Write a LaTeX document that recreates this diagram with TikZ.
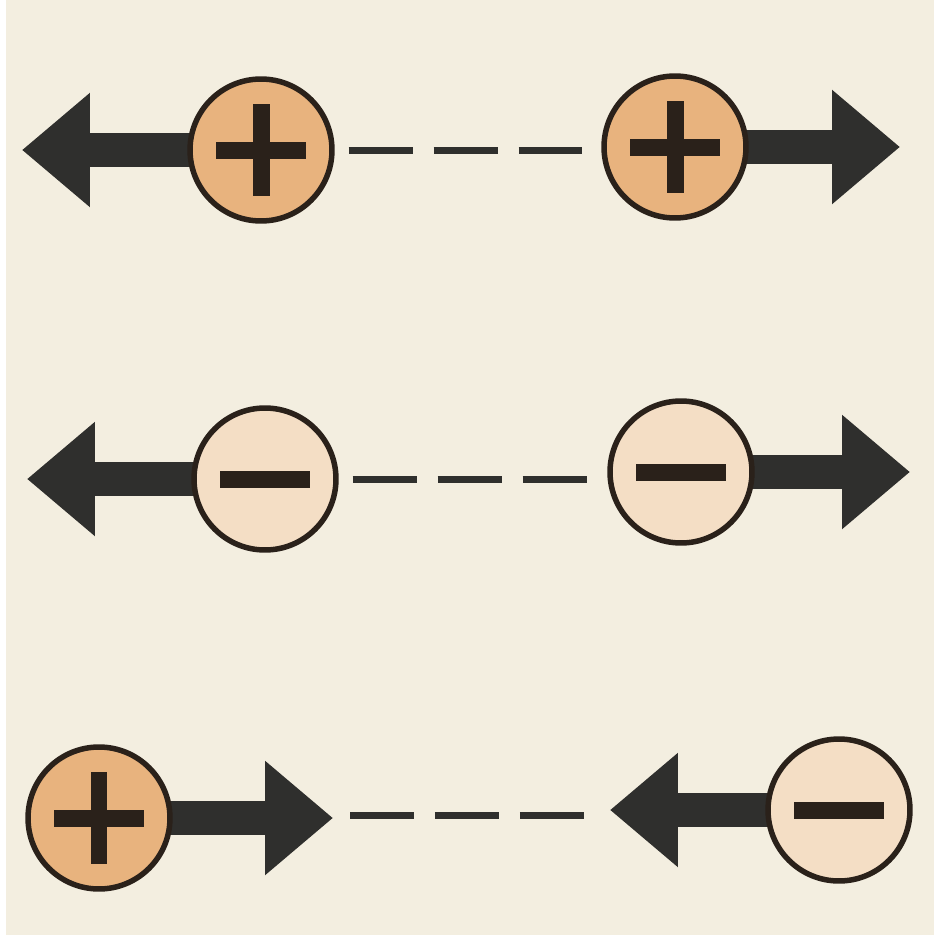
\documentclass[tikz,border=0pt]{standalone}
\usepackage{tikz}
\usetikzlibrary{positioning, arrows.meta, calc}
\definecolor{paper}{HTML}{F3EEE0}
\definecolor{posfill}{HTML}{E8B37E}
\definecolor{negfill}{HTML}{F4DEC5}
\definecolor{ink}{HTML}{2F2F2D}
\definecolor{rim}{HTML}{2A211A}
\tikzset{
  chg/.style     = {draw=rim, circle, line width=0.11cm, minimum size=2.84cm,
                    inner sep=0pt},
  poschg/.style  = {chg, fill=posfill},
  negchg/.style  = {chg, fill=negfill},
  force/.style   = {-{Triangle[length=1.36cm, width=2.2cm]}, line width=0.68cm,
                    draw=ink},
  link/.style    = {line width=0.14cm, draw=ink, dash pattern=on 1.28cm off 0.42cm},
  signbar/.style = {line width=0.34cm, draw=rim},
}

\begin{document}
\begin{tikzpicture}[x=0.02cm, y=-0.02cm]
  \useasboundingbox (0,0) rectangle (940,943);
  \fill[white] (0,0) rectangle (940,943);
  \fill[paper] (6,0) rectangle (934,935);
  % centres and arrow tips
  \coordinate (c1) at (261,150);  \coordinate (t1) at (22,150);
  \coordinate (c2) at (675,147);  \coordinate (t2) at (900,147);
  \coordinate (c3) at (265,479);  \coordinate (t3) at (27,479);
  \coordinate (c4) at (681,472);  \coordinate (t4) at (910,472);
  \coordinate (c5) at (99,818);   \coordinate (t5) at (333,818);
  \coordinate (c6) at (839,810);  \coordinate (t6) at (610,810);
  \foreach \a/\b in {c1/t1, c2/t2, c3/t3, c4/t4, c5/t5, c6/t6}{
    \draw[force] (\a) -- (\b);
  }
  \node[poschg] (p1) at (c1) {};
  \node[poschg] (p2) at (c2) {};
  \node[negchg] (n1) at (c3) {};
  \node[negchg] (n2) at (c4) {};
  \node[poschg] (p3) at (c5) {};
  \node[negchg] (n3) at (c6) {};
  \foreach \n in {p1, p2, p3}{
    \draw[signbar] ($(\n)+(-45,0)$) -- ($(\n)+(45,0)$)
                   ($(\n)+(0,-46)$) -- ($(\n)+(0,46)$);
  }
  \foreach \n in {n1, n2, n3}{
    \draw[signbar] ($(\n)+(-45,0)$) -- ($(\n)+(45,0)$);
  }
  \draw[link, shorten <=14*0.02cm, shorten >=19*0.02cm]
    (p1.east) -- (p1.east -| p2.west);
  \draw[link, shorten <=14*0.02cm, shorten >=8*0.02cm]
    (n1.east) -- (n1.east -| n2.west);
  \draw[link, shorten <=17*0.02cm, shorten >=10*0.02cm]
    ([yshift=3*0.02cm]t5) -- ([yshift=3*0.02cm]t5 -| t6);
\end{tikzpicture}
\end{document}
